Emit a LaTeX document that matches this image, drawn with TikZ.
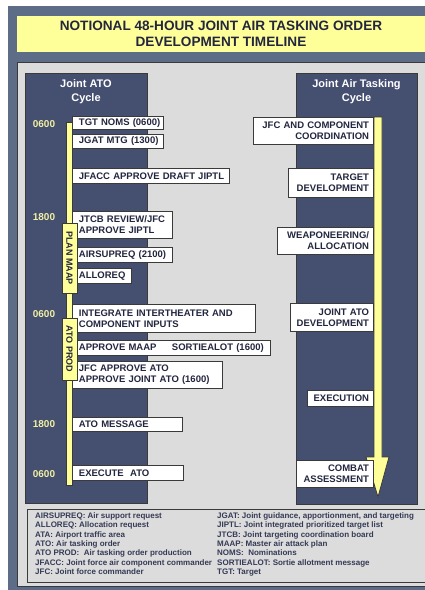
\documentclass[tikz,border=0pt]{standalone}
\usepackage{fontspec}
\setmainfont{Liberation Sans}
\definecolor{slate}{HTML}{5D6C87}
\definecolor{panel}{HTML}{DCDCDC}
\definecolor{navy}{HTML}{454F70}
\definecolor{titlebg}{HTML}{FFFF99}
\definecolor{barfill}{HTML}{FFFF99}
\definecolor{timecol}{HTML}{F0F0A2}
\definecolor{ink}{HTML}{23263F}
\definecolor{legendink}{HTML}{343A55}
\definecolor{edge}{HTML}{3A3A3A}
% keep a line of box text on one line
\newcommand\oneline[1]{\mbox{#1}}
\begin{document}
\begin{tikzpicture}[x=1pt,y=-1pt,
  boxtext/.style={font=\bfseries\fontsize{9.5}{11}\selectfont, text=ink},
  lbox/.style={boxtext, draw=edge, line width=0.9pt, fill=white,
    anchor=north west, inner xsep=6.5pt, inner ysep=0pt, align=left},
  rbox/.style={boxtext, draw=edge, line width=0.9pt, fill=white,
    anchor=north east, inner xsep=4.5pt, inner ysep=0pt, align=right},
  timelbl/.style={font=\bfseries\fontsize{10}{12}\selectfont, text=timecol},
  hdr/.style={font=\bfseries\fontsize{11}{14}\selectfont, text=white, align=center},
  tab/.style={draw=edge, line width=0.8pt, fill=barfill, inner sep=0pt,
    font=\bfseries\fontsize{9}{10}\selectfont, text=ink, rotate=-90},
  bar/.style={draw=edge, line width=0.8pt, fill=barfill},
  legend/.style={font=\bfseries\fontsize{8}{9.3}\selectfont, text=legendink,
    align=left, anchor=north west, inner sep=0pt}
]
\useasboundingbox (0,0) rectangle (425,590);
\begin{scope}
\clip (0,0) rectangle (425,590);
% outer frame, title strip and inner panel
\fill[slate] (8,6) rectangle (445,600);
\fill[titlebg] (17,16) rectangle (440,52);
\draw[edge, line width=0.9pt, fill=panel] (17,62) rectangle (440,586);
% cycle columns
\draw[edge, line width=0.8pt, fill=navy] (25,73) rectangle (147,503);
\draw[edge, line width=0.8pt, fill=navy] (296,73) rectangle (417,504);
% legend box
\draw[edge, line width=0.9pt, fill=panel] (27,509) rectangle (440,582);
\end{scope}

\node[font=\bfseries\fontsize{13.6}{16}\selectfont, text=ink, align=center] (title) at (221,34)
  {NOTIONAL 48-HOUR JOINT AIR TASKING ORDER\\DEVELOPMENT TIMELINE};

\node[hdr] (hdrL) at (86,92) {Joint ATO\\Cycle};
\node[hdr] (hdrR) at (356.5,92) {Joint Air Tasking\\Cycle};

% left timeline bar
\coordinate (lbtop) at (66,122);
\coordinate (lbbot) at (72,485);
\draw[bar] (lbtop) rectangle (lbbot);

% time marks
\node[timelbl] (t1) at (44,124) {0600};
\node[timelbl] (t2) at (44,217) {1800};
\node[timelbl] (t3) at (44,314) {0600};
\node[timelbl] (t4) at (44,424) {1800};
\node[timelbl] (t5) at (44,474) {0600};

% Joint ATO cycle steps
\node[lbox, text width=78pt, minimum height=13pt] (tgt) at (72,116) {\oneline{TGT NOMS (0600)}};
\node[lbox, text width=78pt, minimum height=14pt] (jgat) at (72,134) {\oneline{JGAT MTG (1300)}};
\node[lbox, text width=144pt, minimum height=15pt] (jfacc) at (72,168) {\oneline{JFACC APPROVE DRAFT JIPTL}};
\node[lbox, text width=87pt, minimum height=27pt] (jtcb) at (72,211) {\oneline{JTCB REVIEW/JFC}\\\oneline{APPROVE JIPTL}};
\node[lbox, text width=87pt, minimum height=15pt] (airsup) at (72,247) {\oneline{AIRSUPREQ (2100)}};
\node[lbox, text width=46pt, minimum height=15pt] (allo) at (72,268) {\oneline{ALLOREQ}};
\node[lbox, text width=170pt, minimum height=28pt] (integ) at (72,304) {\oneline{INTEGRATE INTERTHEATER AND}\\\oneline{COMPONENT INPUTS}};
\node[lbox, text width=185pt, minimum height=15pt] (maap) at (72,340) {\oneline{\makebox[93pt][l]{APPROVE MAAP}SORTIEALOT (1600)}};
\node[lbox, text width=137pt, minimum height=27pt] (jfcato) at (72,361) {\oneline{JFC APPROVE ATO}\\\oneline{APPROVE JOINT ATO (1600)}};
\node[lbox, text width=97pt, minimum height=14pt] (atomsg) at (72,417) {\oneline{ATO MESSAGE}};
\node[lbox, text width=98pt, minimum height=15pt] (exec) at (72,465) {\oneline{EXECUTE\ \ ATO}};

% phase tabs on the bar
\node[tab, minimum width=70pt, minimum height=15pt] (planmaap) at (69.5,258) {PLAN MAAP};
\node[tab, minimum width=62pt, minimum height=15pt] (atoprod) at (69.5,349) {ATO PROD};

% right cycle arrow
\coordinate (ra1) at (374,117);
\coordinate (ra2) at (382,117);
\coordinate (ra3) at (382,457);
\coordinate (ra4) at (389,457);
\coordinate (ratip) at (378,497);
\coordinate (ra6) at (366,457);
\coordinate (ra7) at (374,457);
\draw[bar, line join=miter] (ra1) -- (ra2) -- (ra3) -- (ra4) -- (ratip) -- (ra6) -- (ra7) -- cycle;

% Joint air tasking cycle steps
\node[rbox, text width=111pt, minimum height=27pt] (coord) at (374,117) {\oneline{JFC AND COMPONENT}\\\oneline{COORDINATION}};
\node[rbox, text width=76pt, minimum height=29pt] (tdev) at (374,168) {\oneline{TARGET}\\\oneline{DEVELOPMENT}};
\node[rbox, text width=87pt, minimum height=27pt] (weap) at (374,227) {\oneline{WEAPONEERING/}\\\oneline{ALLOCATION}};
\node[rbox, text width=74pt, minimum height=28pt] (jdev) at (374,303) {\oneline{JOINT ATO}\\\oneline{DEVELOPMENT}};
\node[rbox, text width=57pt, minimum height=16pt] (execu) at (374,390) {\oneline{EXECUTION}};
\node[rbox, text width=68pt, minimum height=27pt] (combat) at (374,460) {\oneline{COMBAT}\\\oneline{ASSESSMENT}};

% abbreviations
\node[legend] (legL) at (35,512.5) {AIRSUPREQ: Air support request\\
ALLOREQ: Allocation request\\
ATA: Airport traffic area\\
ATO: Air tasking order\\
ATO PROD:\ \ Air tasking order production\\
JFACC: Joint force air component commander\\
JFC: Joint force commander};
\node[legend] (legR) at (217,512.5) {JGAT: Joint guidance, apportionment, and targeting\\
JIPTL: Joint integrated prioritized target list\\
JTCB: Joint targeting coordination board\\
MAAP: Master air attack plan\\
NOMS:\ \ Nominations\\
SORTIEALOT: Sortie allotment message\\
TGT: Target};
\end{tikzpicture}
\end{document}
